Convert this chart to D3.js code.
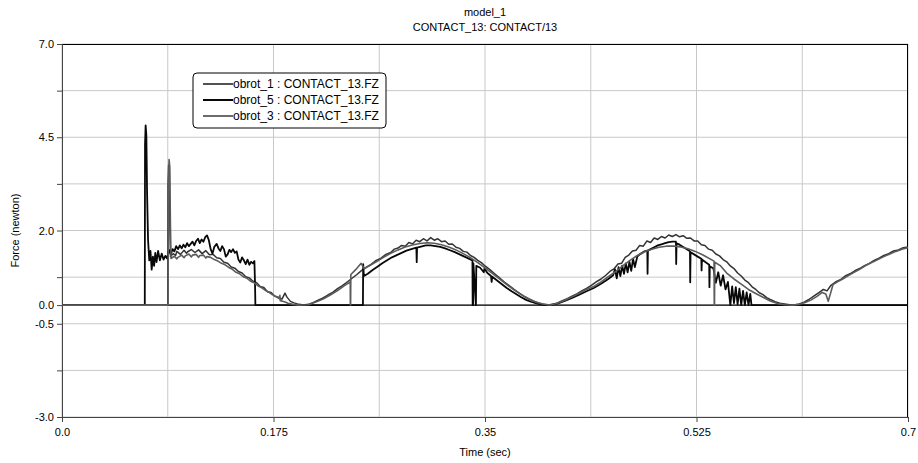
<!DOCTYPE html>
<html>
<head>
<meta charset="utf-8">
<script src="https://cdn.jsdelivr.net/npm/d3@7"></script>
<style>
  body { margin: 0; background: #fff; }
  text { font-family: Arial, "Liberation Sans", sans-serif; fill: #000; }
</style>
</head>
<body>
<div id="vis"></div>
<script>
// ---- data ----
const titles = ["model_1", "CONTACT_13: CONTACT/13"];
const xTickValues = [0, 0.175, 0.35, 0.525, 0.7];
const xTickLabels = ["0.0", "0.175", "0.35", "0.525", "0.7"];
const xGridValues = [0, 0.0875, 0.175, 0.2625, 0.35, 0.4375, 0.525, 0.6125, 0.7];
const yTickValues = [7, 4.5, 2, 0, -0.5, -3];
const yTickLabels = ["7.0", "4.5", "2.0", "0.0", "-0.5", "-3.0"];
const yGridValues = [7, 5.75, 4.5, 3.25, 2, 0.75, 0, -0.5, -1.75, -3];
const seriesNames = ["obrot_1 : CONTACT_13.FZ", "obrot_5 : CONTACT_13.FZ", "obrot_3 : CONTACT_13.FZ"];

const obrot1 = [[0,0],[0.0875,0],[0.0877,3.2],[0.0882,3.75],[0.0888,3.6],[0.0893,2.0],[0.0898,1.3],
  [0.092,1.38],[0.094,1.33],[0.095,1.44],[0.098,1.36],[0.101,1.47],[0.103,1.39],[0.104,1.43],[0.107,1.49],[0.110,1.41],[0.113,1.48],[0.116,1.38],[0.119,1.46],[0.122,1.35],[0.125,1.36],[0.128,1.27],[0.131,1.25],[0.134,1.15],[0.137,1.12],[0.140,1.02],[0.143,0.99],[0.146,0.90],[0.149,0.86],[0.152,0.76],[0.155,0.73],[0.158,0.64],[0.161,0.60],[0.164,0.50],[0.167,0.47],[0.170,0.36],[0.173,0.34],[0.176,0.24],[0.179,0.21],[0.182,0.16],[0.1845,0.32],[0.186,0.22],[0.189,0.10],[0.192,0.06],[0.196,0.02],[0.200,0.0],
  [0.204,0.02],[0.208,0.07],[0.212,0.13],[0.216,0.19],[0.220,0.27],[0.224,0.34],[0.228,0.44],[0.232,0.52],[0.236,0.62],[0.240,0.72],[0.244,0.82],[0.248,0.93],[0.252,1.02],[0.256,1.10],[0.260,1.20],[0.264,1.26],[0.268,1.36],[0.272,1.41],[0.275,1.50],[0.278,1.53],[0.281,1.60],[0.284,1.58],[0.287,1.68],[0.290,1.64],[0.293,1.74],[0.296,1.70],[0.299,1.78],[0.302,1.72],[0.305,1.81],[0.308,1.74],[0.311,1.78],[0.314,1.70],[0.317,1.72],[0.320,1.63],[0.323,1.64],[0.326,1.55],[0.329,1.52],[0.332,1.44],[0.335,1.42],[0.338,1.33],[0.341,1.28],[0.344,1.20],[0.347,1.14],[0.350,1.05],[0.354,0.95],[0.358,0.84],[0.362,0.73],[0.366,0.62],[0.370,0.52],[0.374,0.42],[0.378,0.33],[0.382,0.24],[0.386,0.17],[0.390,0.11],[0.394,0.06],[0.398,0.02],[0.402,0.0],
  [0.406,0.02],[0.410,0.06],[0.414,0.12],[0.418,0.17],[0.422,0.24],[0.426,0.30],[0.430,0.38],[0.434,0.45],[0.438,0.53],[0.442,0.62],[0.446,0.70],[0.450,0.80],[0.454,0.92],[0.457,0.98],[0.460,1.10],[0.463,1.12],[0.466,1.28],[0.469,1.34],[0.472,1.45],[0.475,1.47],[0.478,1.60],[0.481,1.58],[0.484,1.72],[0.487,1.68],[0.490,1.80],[0.493,1.76],[0.496,1.84],[0.499,1.80],[0.502,1.88],[0.505,1.84],[0.508,1.89],[0.511,1.83],[0.514,1.86],[0.517,1.79],[0.520,1.80],[0.523,1.72],[0.526,1.72],[0.529,1.62],[0.532,1.60],[0.535,1.50],[0.538,1.47],[0.541,1.37],[0.544,1.32],[0.547,1.22],[0.550,1.16],[0.553,1.05],[0.556,0.98],[0.559,0.86],[0.562,0.78],[0.565,0.67],[0.568,0.60],[0.571,0.49],[0.574,0.42],[0.577,0.33],[0.580,0.28],[0.583,0.20],[0.586,0.15],[0.590,0.09],[0.594,0.05],[0.598,0.03],[0.602,0.01],[0.606,0.0],
  [0.610,0.03],[0.614,0.08],[0.618,0.15],[0.622,0.24],[0.626,0.33],[0.630,0.42],[0.633,0.38],[0.636,0.52],[0.640,0.62],[0.644,0.68],[0.648,0.78],[0.652,0.84],[0.656,0.92],[0.660,0.98],[0.664,1.06],[0.668,1.12],[0.672,1.20],[0.676,1.26],[0.680,1.33],[0.684,1.38],[0.688,1.45],[0.692,1.48],[0.696,1.54],[0.700,1.56]];

const obrot5 = [[0,0],[0.0685,0],[0.0687,4.3],[0.0692,4.82],[0.0698,4.55],[0.0704,3.0],[0.0712,1.75],[0.0722,1.2],[0.0732,1.45],[0.0742,0.95],[0.0752,1.3],[0.0762,1.05],[0.0772,1.4],[0.0782,1.15],[0.0795,1.45],[0.081,1.2],[0.0825,1.38],[0.084,1.22],[0.0855,1.32],[0.087,1.25],[0.0885,1.48],[0.090,1.36],[0.0915,1.5],[0.093,1.44],[0.0945,1.58],[0.096,1.5],[0.0975,1.6],[0.099,1.52],[0.1005,1.62],[0.102,1.55],[0.1035,1.66],[0.105,1.58],[0.1065,1.64],[0.108,1.7],[0.1095,1.6],[0.111,1.72],[0.1125,1.78],[0.114,1.66],[0.1155,1.76],[0.117,1.7],[0.1185,1.82],[0.120,1.87],[0.1215,1.74],[0.123,1.5],[0.1245,1.38],[0.126,1.56],[0.128,1.64],[0.1295,1.52],[0.131,1.45],[0.1325,1.58],[0.134,1.5],[0.1355,1.3],[0.137,1.36],[0.1385,1.48],[0.140,1.42],[0.1415,1.5],[0.143,1.4],[0.1445,1.44],[0.146,1.22],[0.1475,1.14],[0.149,1.28],[0.1505,1.2],[0.152,1.1],[0.1535,1.22],[0.155,1.08],[0.1565,1.16],[0.158,1.12],[0.1592,1.18],[0.1597,0.6],[0.160,0.0],
  [0.249,0.0],[0.2492,1.1],[0.2498,0.78],[0.253,0.84],[0.257,0.94],[0.261,1.03],[0.265,1.12],[0.269,1.2],[0.273,1.28],[0.277,1.34],[0.281,1.40],[0.285,1.46],[0.289,1.50],[0.2932,1.54],[0.2935,1.15],[0.2938,1.54],[0.297,1.57],[0.301,1.60],[0.305,1.60],[0.309,1.58],[0.313,1.56],[0.317,1.52],[0.321,1.47],[0.325,1.42],[0.329,1.36],[0.333,1.30],[0.337,1.24],[0.3396,1.20],[0.3398,0.0],[0.3402,0.0],[0.3404,1.12],[0.3425,0.0],[0.3428,1.05],[0.346,1.00],[0.349,0.88],[0.3495,0.98],[0.352,0.86],[0.355,0.78],[0.3555,0.62],[0.356,0.76],[0.360,0.66],[0.364,0.56],[0.368,0.46],[0.372,0.37],[0.376,0.29],[0.380,0.21],[0.384,0.14],[0.388,0.09],[0.392,0.05],[0.396,0.02],[0.400,0.0],
  [0.404,0.0],[0.410,0.04],[0.416,0.11],[0.422,0.19],[0.428,0.28],[0.434,0.37],[0.440,0.46],[0.446,0.57],[0.452,0.70],[0.456,0.80],[0.4575,0.96],[0.459,0.72],[0.4605,1.02],[0.462,0.78],[0.4635,1.06],[0.465,0.84],[0.4665,1.12],[0.468,0.88],[0.4695,1.16],[0.471,0.92],[0.4725,1.24],[0.474,1.02],[0.476,1.30],[0.478,1.36],[0.480,1.40],[0.482,1.44],[0.4843,1.46],[0.4845,0.84],[0.4848,1.46],[0.487,1.50],[0.490,1.55],[0.493,1.60],[0.496,1.63],[0.499,1.66],[0.502,1.69],[0.505,1.70],[0.508,1.70],[0.5082,1.10],[0.5085,1.66],[0.511,1.62],[0.514,1.56],[0.517,1.50],[0.5196,1.44],[0.5198,0.61],[0.5201,1.42],[0.523,1.36],[0.526,1.30],[0.529,1.24],[0.5292,0.93],[0.5295,1.22],[0.532,1.16],[0.5355,1.08],[0.5357,0.48],[0.536,1.04],[0.539,0.98],[0.541,0.60],[0.543,0.88],[0.545,0.52],[0.547,0.80],[0.549,0.42],[0.551,0.62],[0.553,0.0],[0.5545,0.50],[0.556,0.05],[0.5575,0.48],[0.559,0.02],[0.5605,0.44],[0.562,0.0],[0.5635,0.38],[0.565,0.0],[0.5665,0.34],[0.568,0.0],[0.5695,0.30],[0.5705,0.0],[0.700,0.0]];

const obrot3 = [[0,0],[0.0878,0],[0.088,3.0],[0.0886,3.9],[0.0892,3.7],[0.0897,2.2],[0.0902,1.25],
  [0.093,1.31],[0.095,1.24],[0.096,1.28],[0.099,1.34],[0.101,1.27],[0.102,1.32],[0.105,1.37],[0.107,1.29],[0.108,1.34],[0.111,1.36],[0.113,1.28],[0.114,1.33],[0.117,1.34],[0.119,1.26],[0.120,1.30],[0.123,1.28],[0.126,1.22],[0.129,1.18],[0.132,1.12],[0.135,1.08],[0.138,1.01],[0.141,0.96],[0.144,0.88],[0.147,0.84],[0.150,0.76],[0.153,0.72],[0.156,0.64],[0.159,0.60],[0.162,0.52],[0.165,0.47],[0.168,0.40],[0.171,0.35],[0.174,0.28],[0.177,0.23],[0.180,0.17],[0.1803,0.26],[0.1806,0.12],[0.184,0.09],[0.187,0.05],[0.191,0.02],[0.196,0.0],
  [0.204,0.01],[0.210,0.08],[0.216,0.16],[0.222,0.27],[0.228,0.39],[0.234,0.53],[0.2385,0.62],[0.2386,0.0],[0.2388,0.0],[0.239,0.82],[0.243,0.95],[0.2475,1.12],[0.250,0.98],[0.254,1.05],[0.260,1.16],[0.266,1.28],[0.272,1.39],[0.278,1.48],[0.284,1.56],[0.290,1.61],[0.296,1.65],[0.302,1.67],[0.308,1.66],[0.314,1.62],[0.320,1.56],[0.326,1.48],[0.332,1.38],[0.338,1.27],[0.344,1.14],[0.350,1.00],[0.356,0.85],[0.362,0.70],[0.368,0.55],[0.374,0.41],[0.380,0.28],[0.386,0.17],[0.392,0.08],[0.398,0.03],[0.404,0.0],
  [0.410,0.05],[0.416,0.13],[0.422,0.22],[0.428,0.32],[0.434,0.42],[0.440,0.50],[0.446,0.62],[0.452,0.76],[0.458,0.90],[0.464,1.05],[0.470,1.20],[0.476,1.33],[0.482,1.43],[0.488,1.50],[0.494,1.55],[0.500,1.58],[0.506,1.58],[0.512,1.56],[0.518,1.51],[0.524,1.44],[0.530,1.35],[0.5395,1.18],[0.5397,0.0],[0.5399,0.0],[0.5401,1.15],[0.545,1.05],[0.550,0.86],[0.556,0.70],[0.562,0.56],[0.568,0.42],[0.574,0.31],[0.580,0.21],[0.586,0.11],[0.592,0.04],[0.598,0.01],[0.604,0.0],
  [0.610,0.02],[0.615,0.07],[0.620,0.14],[0.625,0.24],[0.629,0.34],[0.632,0.30],[0.634,0.10],[0.638,0.55],[0.642,0.63],[0.646,0.70],[0.650,0.78],[0.655,0.87],[0.660,0.96],[0.665,1.06],[0.670,1.14],[0.675,1.22],[0.680,1.30],[0.685,1.37],[0.690,1.44],[0.695,1.50],[0.700,1.54]];

const seriesData = [obrot1, obrot5, obrot3];
const seriesColors = ["#333333", "#080808", "#5c5c5c"];
const seriesWidths = [1.5, 1.8, 1.6];

// ---- layout ----
const WIDTH = 918;
const HEIGHT = 463;
const margin = { top: 44, right: 10, bottom: 46, left: 62 };
const width = WIDTH - margin.left - margin.right;
const height = HEIGHT - margin.top - margin.bottom;

const svg = d3.select("#vis")
  .append("svg")
  .attr("width", WIDTH)
  .attr("height", HEIGHT);

const x = d3.scaleLinear().domain([0, 0.7]).range([0, width]);
const y = d3.scaleLinear().domain([-3, 7]).range([height, 0]);

const g = svg.append("g")
  .attr("transform", `translate(${margin.left},${margin.top})`);

// grid
g.append("g")
  .selectAll("line")
  .data(xGridValues)
  .join("line")
  .attr("x1", d => x(d)).attr("x2", d => x(d))
  .attr("y1", 0).attr("y2", height)
  .attr("stroke", "#c8c8c8");

g.append("g")
  .selectAll("line")
  .data(yGridValues)
  .join("line")
  .attr("x1", 0).attr("x2", width)
  .attr("y1", d => y(d)).attr("y2", d => y(d))
  .attr("stroke", "#c8c8c8");

// top and right frame
g.append("line").attr("x1", 0).attr("x2", width).attr("y1", 0.5).attr("y2", 0.5).attr("stroke", "#000");
g.append("line").attr("x1", width - 0.5).attr("x2", width - 0.5).attr("y1", 0).attr("y2", height).attr("stroke", "#000");

// zero line
g.append("line")
  .attr("x1", 0).attr("x2", width)
  .attr("y1", y(0)).attr("y2", y(0))
  .attr("stroke", "#000").attr("stroke-width", 1.2);

// axes
const yAxis = d3.axisLeft(y)
  .tickValues(yGridValues)
  .tickSize(5)
  .tickFormat(d => {
    const i = yTickValues.indexOf(d);
    return i >= 0 ? yTickLabels[i] : "";
  });
const yG = g.append("g").call(yAxis);

const xAxis = d3.axisBottom(x)
  .tickValues(xTickValues)
  .tickSize(5)
  .tickPadding(6)
  .tickFormat((d, i) => xTickLabels[i]);
const xG = g.append("g").attr("transform", `translate(0,${height})`).call(xAxis);

[yG, xG].forEach(a => {
  a.select(".domain").attr("stroke", "#444");
  a.selectAll(".tick line").attr("stroke", "#444");
  a.selectAll(".tick text")
    .style("font-size", "11px")
    .style("font-family", "Arial, 'Liberation Sans', sans-serif")
    .attr("fill", "#000");
});

// curves
const line = d3.line()
  .x(d => x(d[0]))
  .y(d => y(d[1]));

svg.append("defs").append("clipPath").attr("id", "plotClip")
  .append("rect").attr("x", 0).attr("y", 0).attr("width", width).attr("height", height);

g.append("g")
  .attr("clip-path", "url(#plotClip)")
  .selectAll("path")
  .data(seriesData)
  .join("path")
  .attr("d", line)
  .attr("fill", "none")
  .attr("stroke", (d, i) => seriesColors[i])
  .attr("stroke-width", (d, i) => seriesWidths[i])
  .attr("stroke-linejoin", "round");

// titles
svg.selectAll(".title")
  .data(titles)
  .join("text")
  .attr("class", "title")
  .attr("x", margin.left + width / 2)
  .attr("y", (d, i) => 16 + i * 15)
  .attr("text-anchor", "middle")
  .style("font-size", "11px")
  .text(d => d);

// axis labels
svg.append("text")
  .attr("x", margin.left + width / 2)
  .attr("y", 456)
  .attr("text-anchor", "middle")
  .style("font-size", "11px")
  .text("Time (sec)");

svg.append("text")
  .attr("transform", `translate(19,${margin.top + y(2)}) rotate(-90)`)
  .attr("text-anchor", "middle")
  .style("font-size", "11px")
  .text("Force (newton)");

// legend
const legend = svg.append("g").attr("transform", "translate(193,73)");
legend.append("rect")
  .attr("width", 193).attr("height", 55)
  .attr("rx", 4)
  .attr("fill", "#fff")
  .attr("stroke", "#000");

const rows = legend.selectAll(".row")
  .data(seriesNames)
  .join("g")
  .attr("class", "row")
  .attr("transform", (d, i) => `translate(0,${11 + i * 16})`);

rows.append("line")
  .attr("x1", 10).attr("x2", 40)
  .attr("stroke", (d, i) => seriesColors[i])
  .attr("stroke-width", (d, i) => seriesWidths[i] + 0.2);

rows.append("text")
  .attr("x", 40)
  .attr("y", 4)
  .style("font-size", "12px")
  .attr("fill", "#222")
  .text(d => d);
</script>
</body>
</html>
